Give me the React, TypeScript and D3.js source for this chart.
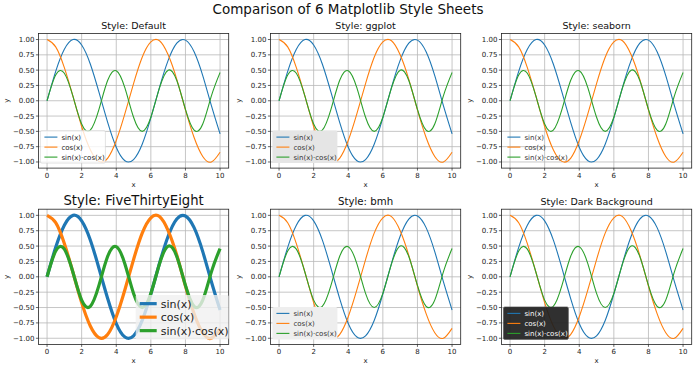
import * as d3 from "d3";

const xs = [0, 0.5, 1, 1.5, 2, 2.5, 3, 3.5, 4, 4.5, 5, 5.5, 6, 6.5, 7, 7.5, 8, 8.5, 9, 9.5, 10];
const sinVals = [0, 0.48, 0.84, 1.0, 0.91, 0.6, 0.14, -0.35, -0.76, -0.98, -0.96, -0.71, -0.28, 0.22, 0.66, 0.94, 0.99, 0.8, 0.41, -0.08, -0.54];
const cosVals = [1, 0.88, 0.54, 0.07, -0.42, -0.8, -0.99, -0.94, -0.65, -0.21, 0.28, 0.71, 0.96, 0.98, 0.75, 0.35, -0.15, -0.6, -0.91, -1.0, -0.84];
const prodVals = [0, 0.42, 0.45, 0.07, -0.38, -0.48, -0.14, 0.33, 0.49, 0.21, -0.27, -0.5, -0.27, 0.21, 0.5, 0.33, -0.14, -0.48, -0.38, 0.08, 0.46];

const seriesNames = ["sin(x)", "cos(x)", "sin(x)·cos(x)"];
const seriesColors = ["#1f77b4", "#ff7f0e", "#2ca02c"];
const xTicks = [0, 2, 4, 6, 8, 10];
const yTicks = [-1, -0.75, -0.5, -0.25, 0, 0.25, 0.5, 0.75, 1];

const styleTitles = ["Style: Default", "Style: ggplot", "Style: seaborn", "Style: FiveThirtyEight", "Style: bmh", "Style: Dark Background"];

const W = 696;
const H = 368;
const font = "DejaVu Sans, sans-serif";

interface Panel {
  title: string;
  titleSize: number;
  left: number;
  right: number;
  top: number;
  bottom: number;
  lw: number;
  legend: { bg: string; bgOpacity: number; border: string; text: string; big: boolean; pos: "ll" | "lr" };
}

const cols = [
  [38.4, 228.7],
  [270.4, 460.7],
  [501.4, 691.7],
];
const rows = [
  [33.4, 168.1],
  [209.2, 344.4],
];

const legends = [
  { bg: "#ffffff", bgOpacity: 0.8, border: "#d0d0d0", text: "#222", big: false, pos: "ll" },
  { bg: "#e5e5e5", bgOpacity: 1, border: "none", text: "#333", big: false, pos: "ll" },
  { bg: "#ffffff", bgOpacity: 0, border: "none", text: "#333", big: false, pos: "ll" },
  { bg: "#f0f0f0", bgOpacity: 0.8, border: "none", text: "#222", big: true, pos: "lr" },
  { bg: "#eeeeee", bgOpacity: 1, border: "none", text: "#333", big: false, pos: "ll" },
  { bg: "#1e1e1e", bgOpacity: 0.92, border: "#555", text: "#ffffff", big: false, pos: "ll" },
] as const;

const panels: Panel[] = styleTitles.map((t, i) => ({
  title: t,
  titleSize: i === 3 ? 13.2 : i === 4 ? 10.2 : 9.5,
  left: cols[i % 3][0],
  right: cols[i % 3][1],
  top: rows[Math.floor(i / 3)][0],
  bottom: rows[Math.floor(i / 3)][1],
  lw: i === 3 ? 3.2 : 1.1,
  legend: legends[i] as any,
}));

const allSeries = [sinVals, cosVals, prodVals];

function PanelView({ p }: { p: Panel }) {
  const x = d3.scaleLinear().domain([-0.5, 10.5]).range([p.left, p.right]);
  const y = d3.scaleLinear().domain([-1.1, 1.1]).range([p.bottom, p.top]);
  const fmt = d3.format(".2f");
  const line = d3
    .line<number>()
    .x((_, i) => x(xs[i]))
    .y((d) => y(d))
    .curve(d3.curveNatural);

  const lg = p.legend;
  const rowH = lg.big ? 13.5 : 10;
  const fs = lg.big ? 11 : 7;
  const lineLen = lg.big ? 17 : 13;
  const boxW = lg.big ? 93 : 65;
  const boxH = rowH * 3 + (lg.big ? 4 : 2.5);
  const bx = lg.pos === "ll" ? p.left + 2 : p.right - boxW;
  const by = p.bottom - 5 - boxH;
  const clipId = "clip" + Math.round(p.left) + "_" + Math.round(p.top);

  return (
    <g>
      <defs>
        <clipPath id={clipId}>
          <rect x={p.left} y={p.top} width={p.right - p.left} height={p.bottom - p.top} />
        </clipPath>
      </defs>
      <rect x={p.left} y={p.top} width={p.right - p.left} height={p.bottom - p.top} fill="#fff" />
      {/* grid */}
      {xTicks.map((t) => (
        <line key={"gx" + t} x1={x(t)} x2={x(t)} y1={p.top} y2={p.bottom} stroke="#b8b8b8" strokeWidth={0.8} />
      ))}
      {yTicks.map((t) => (
        <line key={"gy" + t} x1={p.left} x2={p.right} y1={y(t)} y2={y(t)} stroke="#b8b8b8" strokeWidth={0.8} />
      ))}
      {/* series */}
      <g clipPath={`url(#${clipId})`}>
        {allSeries.map((s, i) => (
          <path key={i} d={line(s) || ""} fill="none" stroke={seriesColors[i]} strokeWidth={p.lw} />
        ))}
      </g>
      {/* frame */}
      <rect x={p.left} y={p.top} width={p.right - p.left} height={p.bottom - p.top} fill="none" stroke="#222" strokeWidth={0.8} />
      {/* ticks */}
      {xTicks.map((t) => (
        <g key={"tx" + t}>
          <line x1={x(t)} x2={x(t)} y1={p.bottom} y2={p.bottom + 2.5} stroke="#222" strokeWidth={0.7} />
          <text x={x(t)} y={p.bottom + 10} fontSize={7} fontFamily={font} textAnchor="middle" fill="#222">
            {t}
          </text>
        </g>
      ))}
      {yTicks.map((t) => (
        <g key={"ty" + t}>
          <line x1={p.left - 2.5} x2={p.left} y1={y(t)} y2={y(t)} stroke="#222" strokeWidth={0.7} />
          <text x={p.left - 4} y={y(t) + 2.5} fontSize={7} fontFamily={font} textAnchor="end" fill="#222">
            {fmt(t)}
          </text>
        </g>
      ))}
      <text x={(p.left + p.right) / 2} y={p.bottom + 18.5} fontSize={7} fontFamily={font} textAnchor="middle" fill="#222">
        x
      </text>
      <text
        transform={`translate(${p.left - 29},${(p.top + p.bottom) / 2}) rotate(-90)`}
        fontSize={7}
        fontFamily={font}
        textAnchor="middle"
        fill="#222"
      >
        y
      </text>
      <text x={(p.left + p.right) / 2} y={p.top - 4} fontSize={p.titleSize} fontFamily={font} textAnchor="middle" fill="#111">
        {p.title}
      </text>
      {/* legend */}
      <g>
        <rect
          x={bx}
          y={by}
          width={boxW}
          height={boxH}
          rx={1.5}
          fill={lg.bg}
          fillOpacity={lg.bgOpacity}
          stroke={lg.border}
          strokeWidth={0.6}
        />
        {seriesNames.map((n, i) => {
          const cy = by + (lg.big ? 2 : 1.5) + rowH * (i + 0.5);
          return (
            <g key={n}>
              <line x1={bx + 4} x2={bx + 4 + lineLen} y1={cy} y2={cy} stroke={seriesColors[i]} strokeWidth={p.lw} />
              <text x={bx + 8 + lineLen} y={cy + fs * 0.36} fontSize={fs} fontFamily={font} fill={lg.text}>
                {n}
              </text>
            </g>
          );
        })}
      </g>
    </g>
  );
}

export default function App() {
  return (
    <svg width={W} height={H} style={{ position: "absolute", left: 0, top: 0, background: "#fff" }}>
      <rect width={W} height={H} fill="#fff" />
      <text x={W / 2} y={14} fontSize={13.5} fontFamily={font} textAnchor="middle" fill="#111">
        Comparison of 6 Matplotlib Style Sheets
      </text>
      {panels.map((p) => (
        <PanelView key={p.title} p={p} />
      ))}
    </svg>
  );
}
